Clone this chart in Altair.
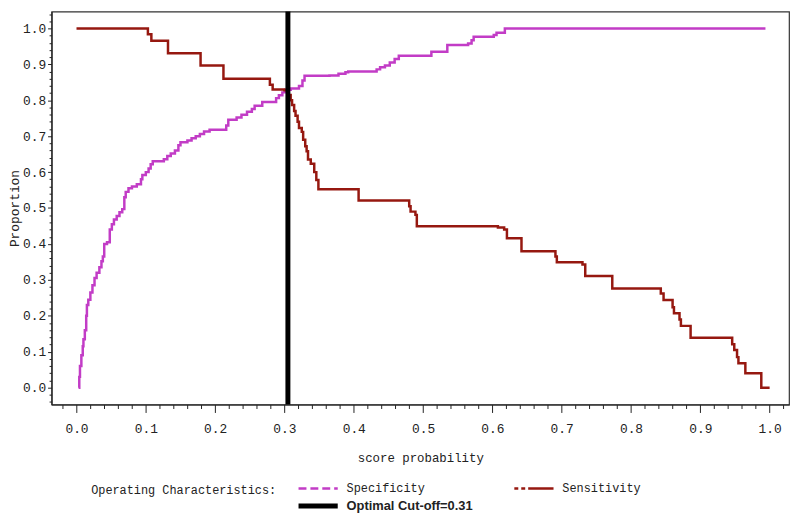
import altair as alt
import pandas as pd

# ---- data (step-after points) ----
spec_x = [0.003, 0.004, 0.005, 0.007, 0.009, 0.010, 0.012, 0.014, 0.015, 0.017,
          0.020, 0.023, 0.026, 0.029, 0.033, 0.036, 0.038, 0.040, 0.044, 0.048,
          0.051, 0.054, 0.058, 0.062, 0.066, 0.069, 0.071, 0.075, 0.080, 0.087,
          0.093, 0.095, 0.100, 0.104, 0.107, 0.110, 0.126, 0.131, 0.136, 0.142,
          0.147, 0.150, 0.160, 0.166, 0.172, 0.178, 0.184, 0.192, 0.216, 0.219,
          0.231, 0.238, 0.246, 0.253, 0.257, 0.268, 0.288, 0.292, 0.297, 0.301,
          0.309, 0.321, 0.326, 0.329, 0.365, 0.378, 0.388, 0.392, 0.433, 0.438,
          0.445, 0.452, 0.459, 0.465, 0.512, 0.535, 0.565, 0.570, 0.573, 0.602,
          0.606, 0.618, 0.994]
spec_y = [0.000, 0.030, 0.060, 0.090, 0.115, 0.135, 0.160, 0.200, 0.230, 0.245,
          0.265, 0.285, 0.305, 0.320, 0.335, 0.352, 0.365, 0.400, 0.405, 0.440,
          0.455, 0.468, 0.478, 0.488, 0.497, 0.530, 0.545, 0.555, 0.560, 0.566,
          0.580, 0.592, 0.600, 0.610, 0.622, 0.630, 0.636, 0.645, 0.652, 0.660,
          0.675, 0.683, 0.688, 0.694, 0.700, 0.706, 0.713, 0.718, 0.730, 0.746,
          0.752, 0.760, 0.768, 0.776, 0.785, 0.795, 0.806, 0.814, 0.822, 0.829,
          0.833, 0.840, 0.855, 0.868, 0.869, 0.874, 0.878, 0.880, 0.886, 0.892,
          0.897, 0.905, 0.915, 0.924, 0.935, 0.954, 0.958, 0.967, 0.977, 0.982,
          0.988, 1.000, 1.000]

sens_x = [0.000, 0.103, 0.108, 0.132, 0.179, 0.212, 0.279, 0.283, 0.300, 0.306,
          0.309, 0.311, 0.314, 0.316, 0.319, 0.321, 0.325, 0.327, 0.330, 0.332,
          0.334, 0.338, 0.343, 0.346, 0.349, 0.407, 0.480, 0.482, 0.489, 0.491,
          0.608, 0.617, 0.621, 0.642, 0.691, 0.693, 0.730, 0.734, 0.773, 0.843,
          0.847, 0.860, 0.862, 0.870, 0.872, 0.886, 0.946, 0.949, 0.953, 0.955,
          0.965, 0.988, 1.000]
sens_y = [1.000, 0.984, 0.966, 0.931, 0.897, 0.860, 0.843, 0.830, 0.828, 0.815,
          0.800, 0.787, 0.770, 0.757, 0.740, 0.723, 0.712, 0.690, 0.672, 0.658,
          0.635, 0.623, 0.600, 0.578, 0.552, 0.521, 0.505, 0.490, 0.481, 0.449,
          0.446, 0.440, 0.416, 0.380, 0.365, 0.349, 0.343, 0.311, 0.276, 0.262,
          0.244, 0.224, 0.207, 0.190, 0.172, 0.139, 0.121, 0.105, 0.085, 0.068,
          0.040, 0.000, 0.000]

CUTOFF = [0.305]
SERIES = ["Specificity", "Sensitivity", "Optimal Cut-off=0.31"]
COLORS = ["#c23cc6", "#961810", "#000000"]
WIDTHS = [2.5, 2.5, 5]

X_MAJOR = [0.0, 0.1, 0.2, 0.3, 0.4, 0.5, 0.6, 0.7, 0.8, 0.9, 1.0]
Y_MAJOR = [0.0, 0.1, 0.2, 0.3, 0.4, 0.5, 0.6, 0.7, 0.8, 0.9, 1.0]
X_MINOR = [round(-0.02 + 0.02 * i, 2) for i in range(53) if (i - 1) % 5 != 0]
Y_MINOR = [round(-0.04 + 0.02 * i, 2) for i in range(55) if (i - 2) % 5 != 0]

df = pd.concat([
    pd.DataFrame({"x": spec_x, "y": spec_y, "series": SERIES[0]}),
    pd.DataFrame({"x": sens_x, "y": sens_y, "series": SERIES[1]}),
], ignore_index=True)
cut_df = pd.DataFrame({"x": CUTOFF, "series": SERIES[2]})

FONT = "Liberation Mono"
INK = "#222222"

xs = alt.Scale(domain=[-0.036, 1.028], nice=False, zero=False)
ys = alt.Scale(domain=[-0.047, 1.047], nice=False, zero=False)

x_major_axis = alt.Axis(values=X_MAJOR, format=".1f", orient="bottom", grid=False,
                        tickSize=8, tickColor=INK, domainColor=INK, domainWidth=1.2,
                        labelFont=FONT, labelFontSize=13, labelColor=INK, labelPadding=10,
                        labelFlush=False, labelOverlap=False,
                        title="score probability", titleFont=FONT, titleFontSize=12.5,
                        titleFontWeight="normal", titleColor=INK, titlePadding=17)
y_major_axis = alt.Axis(values=Y_MAJOR, format=".1f", orient="left", grid=False,
                        tickSize=4, tickColor=INK, domainColor=INK, domainWidth=1.2,
                        labelFont=FONT, labelFontSize=13, labelColor=INK, labelPadding=2,
                        labelFlush=False, labelOverlap=False,
                        title="Proportion", titleFont=FONT, titleFontSize=13,
                        titleFontWeight="normal", titleColor=INK, titlePadding=1)
x_minor_axis = alt.Axis(values=X_MINOR, orient="bottom", grid=False, labels=False,
                        domain=False, tickSize=4, tickColor=INK, title=None)
y_minor_axis = alt.Axis(values=Y_MINOR, orient="left", grid=False, labels=False,
                        domain=False, tickSize=2.5, tickColor=INK, title=None)

is_opt = "datum.value == 'Optimal Cut-off=0.31'"
legend = alt.Legend(
    orient="none", legendX=40, legendY=471, direction="horizontal", columns=2,
    title="Operating Characteristics:", titleOrient="left", titleFont=FONT,
    titleFontSize=12, titleFontWeight="normal", titleColor=INK, titlePadding=19,
    titleAnchor="start", titleBaseline="line-top", titleLineHeight=26, titleLimit=400,
    symbolType="M-1,0H3.4", symbolSize=324, columnPadding=36, rowPadding=0,
    labelOffset=28, labelColor=INK, labelLimit=400,
    labelFont={"expr": f"{is_opt} ? 'Liberation Sans' : '{FONT}'"},
    labelFontSize={"expr": f"{is_opt} ? 13 : 12"},
    labelFontWeight={"expr": f"{is_opt} ? 'bold' : 'normal'"},
    symbolDash={"expr": "datum.value == 'Specificity' ? [8,4] : "
                        "datum.value == 'Sensitivity' ? [4,3,4,3,40,0] : []"},
)

color = alt.Color("series:N", scale=alt.Scale(domain=SERIES, range=COLORS), legend=legend)
swidth = alt.StrokeWidth("series:N", scale=alt.Scale(type="ordinal", domain=SERIES, range=WIDTHS),
                         legend=legend)

minor = alt.Chart(df).mark_point(opacity=0).encode(
    x=alt.X("x:Q", scale=xs, axis=x_minor_axis),
    y=alt.Y("y:Q", scale=ys, axis=y_minor_axis),
)

lines = alt.Chart(df).mark_line(interpolate="step-after").encode(
    x=alt.X("x:Q", scale=xs, axis=x_major_axis),
    y=alt.Y("y:Q", scale=ys, axis=y_major_axis),
    color=color,
    strokeWidth=swidth,
)

rule = alt.Chart(cut_df).mark_rule().encode(
    x=alt.X("x:Q", scale=xs, axis=None),
    color=color,
    strokeWidth=swidth,
)

chart = alt.layer(minor, lines, rule).resolve_axis(
    x="independent", y="independent"
).properties(
    width=745, height=397,
    autosize=alt.AutoSizeParams(type="none"),
    padding={"left": 44, "top": 1, "right": 2, "bottom": 108},
    background="white",
).configure_view(stroke="#333333", strokeWidth=1.2)

chart.save("out.html", embed_options={"renderer": "svg", "actions": False})
